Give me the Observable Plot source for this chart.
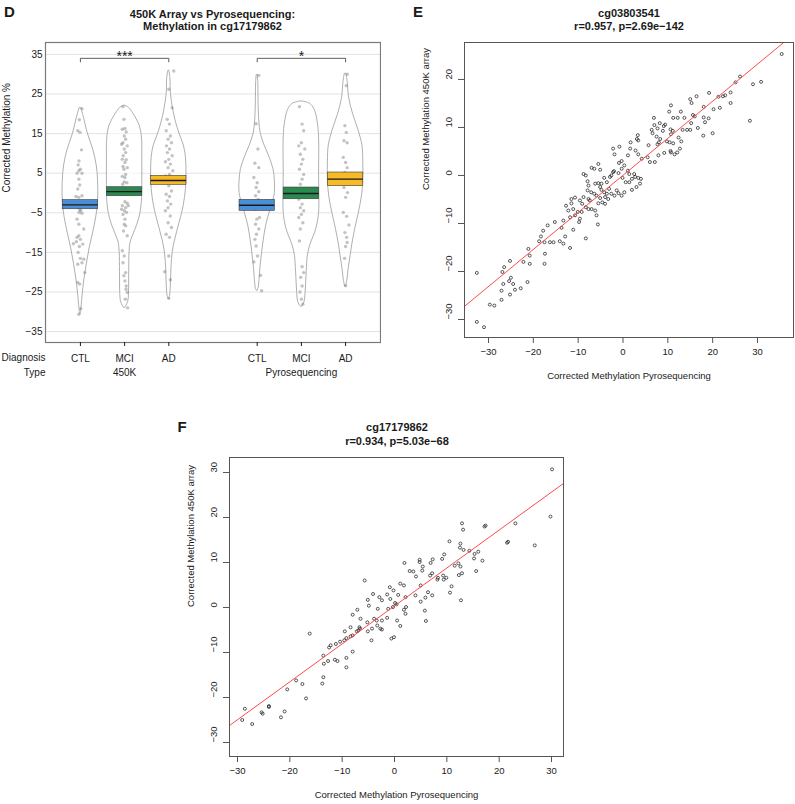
<!DOCTYPE html>
<html><head><meta charset="utf-8">
<script src="https://cdn.jsdelivr.net/npm/d3@7"></script>
<script src="https://cdn.jsdelivr.net/npm/@observablehq/plot@0.6"></script>
<style>
body{margin:0;background:#fff;}
#root{position:relative;width:795px;height:804px;font-family:"Liberation Sans",Arial,Helvetica,sans-serif;color:#1a1a1a;overflow:hidden;background:#fff}
.pane{position:absolute;}
.t{position:absolute;transform:translate(-50%,-50%);white-space:nowrap;line-height:1;}
</style></head><body><div id="root"></div>
<script>
// ---------------- Panel D data ----------------
const diagnosis = ["CTL","MCI","AD","CTL","MCI","AD"];
const positions = [1,2,3,5,6,7];
const typeLabels = ["450K","Pyrosequencing"];
const typeCenters = [2,6];
const boxColors = ["#4a8fd6","#2b8a4f","#f6b928","#4a8fd6","#2b8a4f","#f6b928"];
const meanLow  = [-4.1,-0.8, 2.05,-4.5,-1.57,1.72];
const meanMid  = [-3.0, 0.37,3.15,-3.1,-0.13,3.48];
const meanHigh = [-1.8, 1.46,4.33,-1.73,1.38,5.17];
const yTicksD = [35,25,15,5,-5,-15,-25,-35];
const bracketFrom = [1,5];
const bracketTo = [3,7];
const bracketY = [34,34];
const bracketLabels = ["***","*"];

// violin outlines: [value, relative width]
const violinCTL450 = [[21.3,0.06],[19,0.2],[15,0.42],[11,0.72],[7,0.92],[3,1.0],[-2,1.0],[-6,0.9],[-10,0.72],[-14,0.52],[-18,0.36],[-22,0.22],[-26,0.12],[-29,0.06],[-30.6,0.02]];
const violinMCI450 = [[22,0.05],[21.5,0.25],[20,0.5],[17,0.85],[14,0.98],[8,1.0],[2,1.0],[-2,0.98],[-5,0.9],[-8,0.72],[-10.5,0.5],[-12.5,0.34],[-15,0.28],[-20,0.26],[-25,0.25],[-27.5,0.2],[-29,0.04]];
const violinAD450 = [[30.8,0.03],[29,0.09],[25,0.12],[21,0.25],[18,0.4],[15,0.6],[12,0.85],[9,0.97],[5,1.0],[1,0.97],[-3,0.85],[-6,0.7],[-9,0.52],[-12,0.35],[-15,0.22],[-19,0.15],[-23,0.12],[-26,0.07],[-26.7,0.02]];
const violinCTLPyro = [[29.7,0.03],[28,0.06],[22,0.08],[18,0.12],[15,0.2],[12,0.42],[9,0.7],[6,0.92],[3,1.0],[0,1.0],[-2,0.9],[-5,0.7],[-8,0.52],[-11,0.4],[-15,0.28],[-19,0.18],[-22,0.13],[-24,0.08],[-24.7,0.02]];
const violinMCIPyro = [[23.1,0.08],[22.5,0.5],[21,0.75],[18,0.92],[14,1.0],[5,1.0],[-5,1.0],[-8,0.9],[-10,0.78],[-12,0.6],[-14,0.45],[-16,0.36],[-20,0.3],[-25,0.24],[-27.5,0.18],[-28.7,0.04]];
const violinADPyro = [[30,0.05],[28,0.12],[24,0.2],[20,0.42],[16,0.72],[12,0.95],[8,1.0],[3,1.0],[-1,0.92],[-5,0.75],[-9,0.55],[-13,0.38],[-16,0.28],[-19,0.18],[-22,0.1],[-23.6,0.03]];

// individual samples: [value, horizontal jitter as share of half width]
const pointsCTL450 = [[21.3,0.09],[18.5,-0.06],[15.7,-0.15],[15.3,-0.02],[10.9,0.06],[8.1,-0.08],[7.1,-0.13],[6.0,0],[5.6,-0.09],[5.0,-0.19],[5.0,0.09],[3.5,-0.09],[2.0,-0.04],[1.0,-0.15],[-0.9,-0.25],[-1.1,-0.09],[-0.7,0.09],[-3.1,-0.19],[-4.1,-0.04],[-4.5,0.02],[-4.9,-0.08],[-5.1,0.09],[-6.6,-0.19],[-7.9,-0.09],[-9.1,0.19],[-10.8,-0.09],[-11.2,-0.19],[-11.7,0],[-12.3,-0.23],[-12.8,-0.4],[-12.9,0.13],[-13.5,-0.06],[-15.0,-0.13],[-16.5,0],[-16.7,0.19],[-18.0,-0.15],[-17.6,0.09],[-20.1,0.25],[-22.6,-0.15],[-23.0,-0.04],[-29.2,0.02],[-30.6,-0.09]];
const pointsMCI450 = [[21.8,-0.09],[18.6,-0.04],[16.3,0.02],[16.1,-0.13],[15.4,0.09],[14.4,-0.02],[13.6,0.06],[12.7,-0.09],[12.3,-0.17],[11.9,0.15],[11.1,-0.02],[10.2,0.06],[9.4,-0.08],[8.5,-0.13],[8.4,0.09],[7.7,0.02],[6.7,-0.09],[6.4,0.15],[6.0,-0.04],[4.7,0.06],[4.2,-0.13],[3.9,0.02],[2.8,-0.02],[2.6,0.13],[2.2,-0.11],[1.0,0.06],[-0.3,-0.08],[-2.2,0.02],[-2.6,0.15],[-3.2,-0.13],[-3.7,0.06],[-4.5,-0.02],[-4.9,0.11],[-5.4,-0.09],[-4.1,-0.17],[-3.2,0.21],[-6.6,0.02],[-7.9,-0.02],[-8.3,0.06],[-9.6,-0.06],[-10.8,0.15],[-14.6,-0.13],[-15.9,-0.02],[-17.6,-0.09],[-20.1,0.06],[-20.9,-0.04],[-22.2,0.02],[-23.5,0.09],[-24.3,0.08],[-25.1,0.15],[-26.8,0.04],[-29.0,0.17]];
const pointsAD450 = [[30.8,0.28],[26.2,0],[21.5,0.19],[18.6,-0.09],[17.4,0.04],[15.7,-0.15],[14.4,0.09],[13.6,-0.04],[12.7,0.15],[11.9,-0.13],[11.1,0.04],[10.2,-0.08],[9.4,0.19],[8.5,0],[7.9,-0.19],[7.3,0.09],[6.4,-0.04],[5.6,0.23],[4.7,0.04],[4.3,-0.19],[3.5,0.11],[2.6,-0.08],[1.8,0],[0.5,0.15],[-0.3,-0.15],[-0.9,0.04],[-2.0,-0.08],[-2.8,0.11],[-3.7,-0.04],[-4.5,-0.19],[-5.8,0.08],[-7.5,-0.04],[-8.7,0.15],[-10.4,-0.15],[-11.2,0.04],[-15.9,0],[-19.9,-0.23],[-21.9,0.09],[-26.6,0]];
const pointsCTLPyro = [[29.7,0.09],[17.5,-0.06],[11.1,0.04],[7.5,-0.13],[6.4,0.09],[3.9,-0.19],[2.6,0],[1.4,-0.06],[0.3,0.09],[-0.7,-0.09],[-1.6,0.06],[-4.1,-0.09],[-6.2,0.13],[-6.6,-0.02],[-7.9,-0.09],[-9.1,0.09],[-10.4,-0.04],[-11.7,-0.13],[-13.4,-0.06],[-15.9,0.02],[-17.4,-0.19],[-20.8,0.19],[-24.7,0.25]];
const pointsMCIPyro = [[21.8,-0.11],[17.4,0.04],[15.7,0.13],[12.7,0],[11.9,-0.15],[11.1,0.19],[9.8,-0.06],[8.5,0.08],[7.3,0],[6.0,-0.11],[4.7,0.13],[3.5,0.04],[2.2,-0.06],[1.0,0.13],[-1.6,-0.15],[-2.8,0.04],[-3.7,-0.06],[-4.5,0.13],[-5.4,0],[-6.2,-0.15],[-7.5,0.08],[-9.1,-0.06],[-12.1,-0.11],[-18.6,0.04],[-20.1,0.13],[-21.3,-0.04],[-23.5,0.04],[-25.0,-0.08],[-26.8,0],[-28.1,0.08]];
const pointsADPyro = [[30.0,0.09],[27.1,0.04],[17.0,-0.04],[15.3,0.04],[13.2,-0.09],[12.7,0.09],[9.0,-0.13],[7.7,0],[6.4,0.09],[5.2,-0.04],[3.5,0.04],[1.4,-0.09],[0.1,0.11],[-1.1,0],[-4.9,-0.13],[-5.9,0.06],[-8.1,0.19],[-10.0,-0.04],[-11.2,0.06],[-12.5,0.09],[-13.5,0],[-16.5,-0.06],[-23.4,0]];

// ---------------- Panel E data: [pyrosequencing, 450K array] ----------------
const eTitle = ["cg03803541","r=0.957, p=2.69e\u2212142"];
const eSlope = 0.772, eIntercept = 0.03;
const eTicksX = [-30,-20,-10,0,10,20,30];
const eTicksY = [-30,-20,-10,0,10,20];
const ePoints = [[35.4,25.3],[26.1,20.6],[25.1,19.4],[29.0,19.0],[30.8,19.5],[24.0,17.3],[22.8,16.7],[22.3,16.5],[21.3,16.4],[19.2,17.2],[16.4,16.5],[15.0,15.9],[15.3,15.1],[24.0,15.1],[21.6,14.1],[20.2,13.8],[18.0,14.3],[10.7,14.6],[10.3,13.3],[12.9,13.3],[28.3,11.4],[20.0,8.8],[17.9,8.3],[16.7,9.9],[18.3,11.1],[19.1,11.9],[18.0,12.1],[16.0,12.3],[15.6,12.6],[15.2,10.9],[13.7,12.0],[12.2,12.0],[11.2,12.0],[9.4,10.6],[9.1,10.3],[8.2,10.9],[6.9,12.0],[7.0,10.5],[6.4,9.5],[6.6,8.8],[7.7,9.8],[8.9,9.3],[10.6,9.6],[11.1,9.3],[10.7,8.6],[13.3,9.5],[14.3,9.5],[15.0,9.5],[12.4,7.9],[7.5,8.1],[8.3,7.6],[3.3,8.4],[3.1,7.6],[13.0,7.1],[11.2,6.7],[10.4,6.9],[9.8,7.1],[11.5,4.4],[12.1,4.8],[10.7,4.8],[12.7,5.6],[10.6,5.1],
[-2.2,5.6],[-0.8,6.0],[1.7,6.9],[3.4,7.3],[5.7,6.3],[7.7,6.5],[8.0,6.9],[9.2,4.7],[7.9,4.2],[7.1,2.8],[6.0,2.8],[5.5,3.8],[4.2,3.5],[3.4,4.4],[2.8,5.2],[1.6,5.6],[1.1,4.2],[-0.3,3.0],[0.3,2.1],[-0.9,2.6],[-1.9,4.4],[-2.0,0.9],[-0.3,1.4],[1.1,1.0],[1.4,0.3],[2.5,0.3],[2.0,-0.7],[2.7,-0.3],[3.4,-0.5],[4.0,-0.7],[3.8,-1.7],[3.0,-2.4],[2.0,-3.0],[1.4,-1.4],[0.6,-1.4],[-0.1,-0.5],[-1.0,0.5],[-2.2,0.7],[-2.6,0],[-2.9,-0.3],[-3.6,-1.4],[-4.2,-0.5],[-4.8,-1.7],[-5.5,-1.6],[-6.4,1.4],[-7.0,1.6],[-5.5,2.4],[-5.1,1.2],[-8.8,0.3],[-8.3,0],[-7.9,-1.2],[-7.7,-2.1],[-7.9,-3.1],[-7.1,-3.5],[-6.2,-1.7],[-5.1,-2.4],[-4.8,-3.0],[-4.2,-3.5],[-3.6,-3.8],[-3.1,-2.8],[-2.6,-3.8],[-1.9,-4.2],[-1.4,-3.1],[-1.0,-3.7],[-0.3,-4.2],[0.3,-3.5],[-4.0,-4.5],[-3.3,-4.9],[-4.6,-5.6],[-5.1,-4.7],[-5.9,-4.2],[-6.4,-3.8],[-7.4,-5.2],[-7.7,-4.9],[-8.8,-4.5],[-9.6,-5.2],[-9.1,-5.9],[-8.3,-6.6],[-7.7,-7.0],[-7.0,-7.0],[-6.2,-7.3],[-5.5,-5.8],[-4.0,-5.9],[-5.9,-8.3],[-5.6,-10.2],[-10.7,-4.6],[-11.5,-4.9],[-11.5,-5.8],[-12.7,-6.3],[-12.2,-7.3],[-11.1,-7.0],[-10.7,-8.3],[-11.8,-8.7],[-10.1,-7.6],[-9.2,-7.6],[-9.6,-9.0],[-9.8,-9.7],[-13.3,-9.4],[-13.7,-10.9],[-12.9,-12.7],[-15.2,-9.7],[-16.8,-10.4],[-17.8,-11.5],[-18.3,-12.7],[-18.7,-13.7],[-17.5,-13.9],[-16.3,-13.9],[-15.5,-13.9],[-14.1,-13.7],[-13.3,-14.2],[-11.8,-15.1],[-8.3,-13.1],[-11.1,-11.3],[-17.4,-16.3],[-17.5,-18.4],[-21.1,-15.3],[-20.8,-16.7],[-22.2,-18.0],[-20.8,-18.4],[-25.2,-17.8],[-26.5,-19.1],[-26.9,-20.1],[-26.7,-22.6],[-27.1,-24.0],[-25.4,-22.0],[-25.0,-21.3],[-24.5,-22.6],[-24.1,-23.8],[-25.2,-24.8],[-22.8,-23.5],[-21.3,-22.2],[-27.1,-25.9],[-29.7,-26.9],[-28.7,-27.1],[-32.6,-20.3],[-32.6,-30.5],[-31.0,-31.6]];

// ---------------- Panel F data: [pyrosequencing, 450K array] ----------------
const fTitle = ["cg17179862","r=0.934, p=5.03e\u221268"];
const fSlope = 0.843, fIntercept = 0.35;
const fTicksX = [-30,-20,-10,0,10,20,30];
const fTicksY = [-30,-20,-10,0,10,20,30];
const fPoints = [[30.1,30.7],[29.8,20.2],[23.1,18.7],[26.8,13.8],[21.7,14.6],[21.5,14.4],[17.4,18.2],[17.2,18.0],[12.9,18.7],[13.1,17.3],[16.0,12.4],[15.3,11.9],[15.2,10.9],[14.3,12.6],[13.2,12.8],[12.6,14.2],[12.5,13.3],[16.8,10.4],[15.6,8.1],[12.6,9.1],[12.2,9.8],[11.5,9.3],[12.9,7.6],[12.3,7.2],[10.5,14.7],[9.5,11.8],[9.1,10.8],[7.3,10.7],[6.9,9.9],[4.8,10.6],[7.2,7.6],[8.3,6.6],[8.2,6.2],[9.3,7.1],[9.4,6.2],[9.9,6.6],[10.9,4.7],[10.6,3.3],[12.7,1.6],[7.2,2.7],
[1.9,9.9],[4.8,10.1],[5.4,9.1],[2.9,8.1],[3.6,8.0],[4.1,6.9],[5.3,8.2],[6.8,7.1],[-5.7,6.0],[1.1,5.3],[1.8,4.9],[-0.9,4.5],[-0.2,3.8],[-4.1,3.0],[-1.4,2.9],[0.7,2.8],[4.0,2.7],[-2.9,2.3],[2.1,2.3],[-0.8,1.9],[-5.1,1.7],[-2.4,1.6],[5.0,1.3],[0.1,1.0],[0.4,0.7],[-4.9,0.4],[5.8,-0.7],[-3.2,-0.3],[-1.2,-0.3],[-0.3,0.1],[2.2,0.1],[1.8,-0.5],[2.1,-1.4],[-7.1,-0.5],[-8.0,-1.6],[-6.5,-2.5],[-3.9,-2.5],[-3.4,-2.9],[-2.4,-2.9],[-1.4,-2.3],[0.5,-2.9],[-5.2,-3.3],[-3.3,-4.0],[-2.7,-4.7],[-2.4,-4.9],[1.1,-4.1],[-6.7,-4.4],[-6.6,-4.7],[-6.9,-5.1],[-7.2,-5.3],[-8.4,-4.4],[-9.5,-5.3],[-4.3,-4.7],[-5.1,-5.3],[-0.1,-6.6],[-0.6,-6.9],[-4.4,-7.3],[-8.0,-6.2],[-8.4,-6.4],[-9.2,-6.8],[-9.6,-7.3],[-10.4,-7.6],[-11.2,-8.1],[-12.2,-8.4],[-12.5,-8.9],[-8.0,-9.8],[-13.6,-10.7],[-9.2,-11.2],[-12.7,-11.9],[-11.4,-11.6],[-10.9,-11.9],[-13.5,-12.5],[-9.2,-13.3],[-16.2,-5.8],[-13.6,-15.5],[-13.8,-16.9],[-18.8,-16.2],[-17.6,-17.0],[-20.5,-18.2],[-16.9,-20.2],[-28.6,-22.5],[-29.1,-25.0],[-27.2,-25.9],[-25.4,-23.3],[-25.2,-23.6],[-24.0,-21.9],[-24.0,-22.1],[-21.0,-23.1],[-21.7,-24.4],[6.0,-3.0],[6.4,3.4],[5.9,2.2],[5.0,4.9]];

// ---------------- helpers ----------------
const root = document.getElementById("root");
const fmt = d => String(d).replace("-", "\u2212");
const FONT = '"Liberation Sans", Arial, Helvetica, sans-serif';
function addText(txt, x, y, size, bold) {
  const el = document.createElement("div");
  el.className = "t";
  el.textContent = txt;
  el.style.left = x + "px"; el.style.top = y + "px";
  el.style.fontSize = size + "px";
  el.style.fontWeight = bold ? "bold" : "normal";
  root.appendChild(el);
}
function addPane(svg, left, top) {
  const d = document.createElement("div");
  d.className = "pane"; d.style.left = left + "px"; d.style.top = top + "px";
  d.appendChild(svg); root.appendChild(d);
}

// ---------------- Panel D ----------------
const violinShapes = [violinCTL450, violinMCI450, violinAD450, violinCTLPyro, violinMCIPyro, violinADPyro];
const pointSets = [pointsCTL450, pointsMCI450, pointsAD450, pointsCTLPyro, pointsMCIPyro, pointsADPyro];
const halfW = 0.4;
const violinRows = violinShapes.flatMap((s, i) => s.map(([y, w]) => ({g: i, y, w, pos: positions[i]})));
const pointRows = pointSets.flatMap((s, i) => s.map(([y, dx]) => ({g: i, y, x: positions[i] + dx * halfW})));
const boxRows = positions.map((p, i) => ({pos: p, lo: meanLow[i], mid: meanMid[i], hi: meanHigh[i], color: boxColors[i]}));
const bracketDrop = 0.9;
const bracketRows = bracketFrom.map((f, i) => ({from: f, to: bracketTo[i], y: bracketY[i], label: bracketLabels[i]}));
const bracketPath = bracketRows.flatMap((b, i) => [
  {i, x: b.from, y: b.y - bracketDrop}, {i, x: b.from, y: b.y}, {i, x: b.to, y: b.y}, {i, x: b.to, y: b.y - bracketDrop}]);
const typeRows = typeLabels.map((t, i) => ({t, x: typeCenters[i]}));

const plotD = Plot.plot({
  width: 381, height: 385, marginLeft: 45, marginRight: 1, marginTop: 42, marginBottom: 43,
  style: {fontFamily: FONT, fontSize: "10px", color: "#1a1a1a", background: "transparent"},
  x: {domain: [0.21, 7.79]},
  y: {domain: [-37.75, 38.0]},
  marks: [
    Plot.gridY({ticks: yTicksD, stroke: "#e2e2e2", strokeOpacity: 1, strokeWidth: 1}),
    Plot.areaX(violinRows, {y: "y", x1: d => d.pos - d.w * halfW, x2: d => d.pos + d.w * halfW, z: "g",
      fill: "white", fillOpacity: 0.6, stroke: "#9a9a9a", strokeWidth: 0.8, curve: "catmull-rom"}),
    Plot.dot(pointRows, {x: "x", y: "y", r: 1.7, fill: "#7a7a7a", fillOpacity: 0.45, stroke: "none"}),
    ...boxRows.map(b => Plot.rect([b], {x1: d => d.pos - halfW, x2: d => d.pos + halfW, y1: "lo", y2: "hi",
      fill: b.color, stroke: "#3a3a3a", strokeWidth: 0.6})),
    Plot.ruleY(boxRows, {y: "mid", x1: d => d.pos - halfW, x2: d => d.pos + halfW, stroke: "#1a1a1a", strokeWidth: 1.3}),
    Plot.line(bracketPath, {x: "x", y: "y", z: "i", stroke: "#333", strokeWidth: 0.8}),
    Plot.text(bracketRows, {x: d => (d.from + d.to) / 2, y: "y", text: "label", dy: -2, fontSize: 14, fill: "#1a1a1a"}),
    Plot.frame({stroke: "#7a7a7a", strokeWidth: 1.2}),
    Plot.axisY({ticks: yTicksD, tickSize: 0, tickPadding: 3, tickFormat: fmt, label: null, fontSize: 10}),
    Plot.axisX({ticks: positions, tickSize: 4, tickPadding: 8, tickFormat: d => diagnosis[positions.indexOf(d)], label: null, fontSize: 10}),
    Plot.text(["Diagnosis"], {frameAnchor: "bottom-left", dy: 18, dx: 0, textAnchor: "end", fontSize: 10}),
    Plot.text(["Type"], {frameAnchor: "bottom-left", dy: 33, dx: 0, textAnchor: "end", fontSize: 10}),
    Plot.text(typeRows, {x: "x", text: "t", frameAnchor: "bottom", dy: 33, fontSize: 10}),
    Plot.text(["Corrected Methylation %"], {frameAnchor: "left", dx: -39, rotate: -90, fontSize: 10})
  ]
});
addPane(plotD, 0, 0);
addText("D", 9.5, 10.5, 15, true);
addText("450K Array vs Pyrosequencing:", 212.5, 13.5, 11, true);
addText("Methylation in cg17179862", 212.5, 26, 11, true);

// ---------------- scatter panels ----------------
function scatter(points, slope, intercept, xDomain, yDomain, xTicks, yTicks, w, h, ml, mr, mt, mb) {
  const rows = points.map(([x, y]) => ({x, y}));
  const xa = Math.max(xDomain[0], (yDomain[0] - intercept) / slope);
  const xb = Math.min(xDomain[1], (yDomain[1] - intercept) / slope);
  const fit = [xa, xb].map(x => ({x, y: intercept + slope * x}));
  return Plot.plot({
    width: w, height: h, marginLeft: ml, marginRight: mr, marginTop: mt, marginBottom: mb,
    style: {fontFamily: FONT, fontSize: "9.5px", color: "#1a1a1a", background: "transparent"},
    x: {domain: xDomain}, y: {domain: yDomain},
    marks: [
      Plot.dot(rows, {x: "x", y: "y", r: 1.5, stroke: "#222", strokeWidth: 0.75, fill: "none"}),
      Plot.line(fit, {x: "x", y: "y", stroke: "#ff4a4a", strokeWidth: 1}),
      Plot.frame({stroke: "#555", strokeWidth: 1}),
      Plot.axisX({ticks: xTicks, tickSize: 6, tickPadding: 5, tickFormat: fmt, label: null, stroke: "#555"}),
      Plot.axisY({ticks: yTicks, tickSize: 6, tickFormat: () => "", label: null, stroke: "#555"}),
      Plot.text(yTicks, {y: d => d, text: d => fmt(d), frameAnchor: "left", dx: -16, rotate: -90, fontSize: 9.5}),
      Plot.text(["Corrected Methylation 450K array"], {frameAnchor: "left", dx: -39, rotate: -90, fontSize: 9.5}),
      Plot.text(["Corrected Methylation Pyrosequencing"], {frameAnchor: "bottom", dy: 41, fontSize: 9.5})
    ]
  });
}

const plotE = scatter(ePoints, eSlope, eIntercept, [-35.35, 38.03], [-33.75, 27.7], eTicksX, eTicksY, 395, 390, 64, 2, 42, 53);
addPane(plotE, 400, 0);
addText("E", 418, 10.5, 15, true);
addText(eTitle[0], 629, 12.5, 11, true);
addText(eTitle[1], 629, 26, 11, true);

const plotF = scatter(fPoints, fSlope, fIntercept, [-31.53, 32.29], [-33.11, 33.33], fTicksX, fTicksY, 404, 394, 69, 1, 47, 48);
addPane(plotF, 160, 410);
addText("F", 182, 425.5, 15, true);
addText(fTitle[0], 397, 427, 11, true);
addText(fTitle[1], 397, 441, 11, true);
</script></body></html>
